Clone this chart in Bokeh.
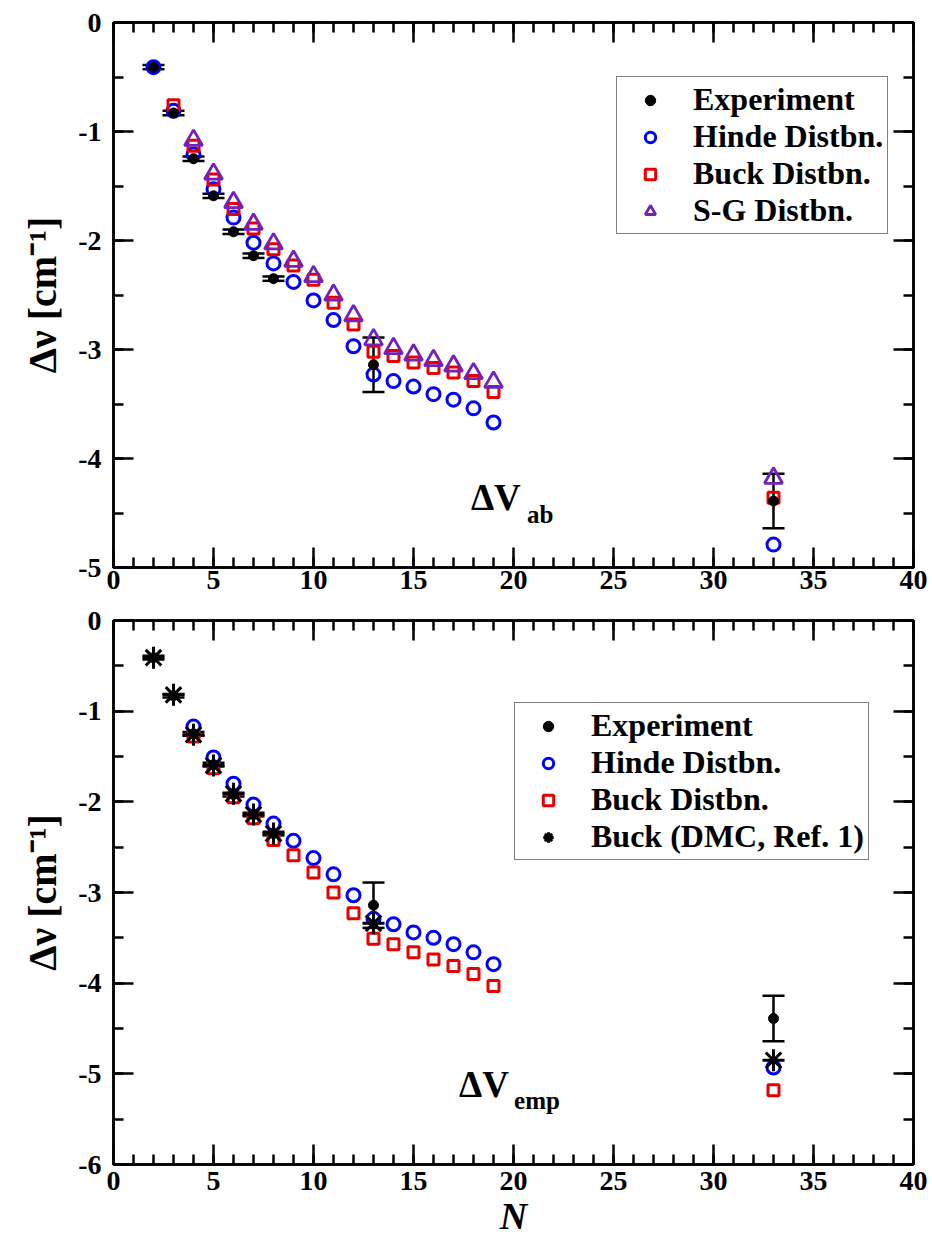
from bokeh.plotting import figure
from bokeh.models import (ColumnDataSource, Whisker, TeeHead, LinearAxis, SingleIntervalTicker,
                          Range1d, Legend, LegendItem, Label, CustomJSTickFormatter)
from bokeh.layouts import column
from bokeh.embed import file_html
from bokeh.resources import INLINE

FONT = "Liberation Serif"
BLUE = "#0000ff"
RED = "#e80000"
PURPLE = "#7221bc"

# ---------------- data ----------------
x_title = "N"
y_title = "Δν [cm⁻¹]"

# Experiment (shared by both panels)
n_exp = [2, 3, 4, 5, 6, 7, 8, 13, 33]
exp_val = [-0.41, -0.83, -1.25, -1.59, -1.92, -2.14, -2.35, -3.14, -4.39]
exp_err = [0.02, 0.02, 0.02, 0.02, 0.02, 0.02, 0.02, 0.25, 0.25]

# Top panel: Delta V_ab
n_hinde_ab = [2, 3, 4, 5, 6, 7, 8, 9, 10, 11, 12, 13, 14, 15, 16, 17, 18, 19, 33]
hinde_ab = [-0.41, -0.81, -1.21, -1.53, -1.79, -2.02, -2.21, -2.38, -2.55, -2.73, -2.97,
            -3.23, -3.29, -3.34, -3.41, -3.46, -3.54, -3.67, -4.79]
n_buck_ab = [3, 4, 5, 6, 7, 8, 9, 10, 11, 12, 13, 14, 15, 16, 17, 18, 19, 33]
buck_ab = [-0.76, -1.13, -1.44, -1.71, -1.89, -2.08, -2.23, -2.36, -2.57, -2.77,
           -3.02, -3.06, -3.12, -3.17, -3.21, -3.29, -3.39, -4.36]
n_sg_ab = [4, 5, 6, 7, 8, 9, 10, 11, 12, 13, 14, 15, 16, 17, 18, 19, 33]
sg_ab = [-1.08, -1.39, -1.65, -1.85, -2.03, -2.19, -2.33, -2.50, -2.69, -2.91,
         -2.99, -3.05, -3.10, -3.15, -3.22, -3.30, -4.18]

# Bottom panel: Delta V_emp
n_hinde_emp = [4, 5, 6, 7, 8, 9, 10, 11, 12, 13, 14, 15, 16, 17, 18, 19, 33]
hinde_emp = [-1.17, -1.51, -1.80, -2.03, -2.24, -2.43, -2.62, -2.80, -3.03, -3.29,
             -3.35, -3.44, -3.50, -3.57, -3.66, -3.79, -4.93]
n_buck_emp = [4, 5, 6, 7, 8, 9, 10, 11, 12, 13, 14, 15, 16, 17, 18, 19, 33]
buck_emp = [-1.28, -1.63, -1.95, -2.18, -2.42, -2.59, -2.78, -3.00, -3.23, -3.51,
            -3.57, -3.66, -3.74, -3.81, -3.90, -4.03, -5.18]
n_dmc = [2, 3, 4, 5, 6, 7, 8, 13, 33]
dmc = [-0.41, -0.82, -1.26, -1.60, -1.91, -2.14, -2.35, -3.34, -4.85]


def style_axis(ax):
    ax.axis_line_width = 2.5
    ax.axis_line_color = "black"
    ax.major_tick_in = 20
    ax.major_tick_out = 0
    ax.minor_tick_in = 10
    ax.minor_tick_out = 0
    ax.major_tick_line_width = 2.5
    ax.minor_tick_line_width = 2.5
    ax.major_tick_line_color = "black"
    ax.minor_tick_line_color = "black"
    ax.major_label_text_font = FONT
    ax.major_label_text_font_style = "bold"
    ax.major_label_text_font_size = "28px"
    ax.major_label_text_color = "black"


def make_fig(ymin, height, top, bottom):
    p = figure(width=932, height=height, x_range=Range1d(0, 40), y_range=Range1d(ymin, 0),
               output_backend="svg", toolbar_location=None,
               min_border_left=113, min_border_right=19,
               min_border_top=top, min_border_bottom=bottom)
    p.grid.visible = False
    p.outline_line_color = "black"
    p.outline_line_width = 2.5
    p.outline_line_alpha = 1.0
    p.background_fill_color = "white"
    p.border_fill_color = "white"
    xt = SingleIntervalTicker(interval=5, num_minor_ticks=5)
    yt = SingleIntervalTicker(interval=1, num_minor_ticks=2)
    fmt = CustomJSTickFormatter(code="return tick.toFixed(0)")
    xax = p.below[0]
    yax = p.left[0]
    xax.ticker = xt
    yax.ticker = yt
    for ax in (xax, yax):
        style_axis(ax)
        ax.formatter = fmt
    xax.major_label_standoff = 3
    yax.major_label_standoff = 12
    yax.axis_label = y_title
    yax.axis_label_text_font = FONT
    yax.axis_label_text_font_style = "bold"
    yax.axis_label_text_font_size = "40px"
    yax.axis_label_text_color = "black"
    yax.axis_label_standoff = 10
    for loc, tk in (("above", xt), ("right", yt)):
        ax = LinearAxis(ticker=tk, formatter=CustomJSTickFormatter(code="return ''"))
        style_axis(ax)
        ax.major_label_text_font_size = "0px"
        ax.major_label_standoff = 0
        p.add_layout(ax, loc)
    return p, xax


def add_exp(p):
    lo = [v - e for v, e in zip(exp_val, exp_err)]
    hi = [v + e for v, e in zip(exp_val, exp_err)]
    src = ColumnDataSource(dict(x=n_exp, y=exp_val, lo=lo, hi=hi))
    w = Whisker(base="x", lower="lo", upper="hi", source=src, line_color="black", line_width=2.5,
                upper_head=TeeHead(size=22, line_width=2.5, line_color="black"),
                lower_head=TeeHead(size=22, line_width=2.5, line_color="black"))
    p.add_layout(w)
    return p.scatter("x", "y", source=src, marker="circle", size=10,
                     fill_color="black", line_color="black")


def hollow(p, xs, ys, marker, color, size, lw=3):
    return p.scatter(xs, ys, marker=marker, size=size, fill_color=None,
                     line_color=color, line_width=lw)


def make_legend(items, loc):
    lg = Legend(items=items, location=loc)
    lg.label_text_font = FONT
    lg.label_text_font_style = "bold"
    lg.label_text_font_size = "32px"
    lg.label_text_color = "black"
    lg.border_line_color = "black"
    lg.border_line_width = 1.5
    lg.background_fill_color = "white"
    lg.background_fill_alpha = 1.0
    lg.padding = 4
    lg.spacing = 0
    lg.margin = 0
    lg.glyph_width = 58
    lg.glyph_height = 26
    lg.label_height = 26
    lg.label_standoff = 14
    return lg


# ---------------- top panel ----------------
p1, _ = make_fig(-5, 603, 22, 36)
r_h1 = hollow(p1, n_hinde_ab, hinde_ab, "circle", BLUE, 13)
r_b1 = hollow(p1, n_buck_ab, buck_ab, "square", RED, 11)
r_s1 = hollow(p1, n_sg_ab, sg_ab, "triangle", PURPLE, 18, 2.8)
r_e1 = add_exp(p1)
p1.add_layout(make_legend([
    LegendItem(label="Experiment", renderers=[r_e1]),
    LegendItem(label="Hinde Distbn.", renderers=[r_h1]),
    LegendItem(label="Buck Distbn.", renderers=[r_b1]),
    LegendItem(label="S-G Distbn.", renderers=[r_s1]),
], (503, 333)))
p1.add_layout(Label(x=17.87, y=-4.36, text="ΔV", text_font=FONT, text_font_style="bold",
                    text_font_size="37px", text_baseline="alphabetic", text_color="black"))
p1.add_layout(Label(x=20.67, y=-4.51, text="ab", text_font=FONT, text_font_style="bold",
                    text_font_size="25px", text_baseline="alphabetic", text_color="black"))

# ---------------- bottom panel ----------------
p2, xax2 = make_fig(-6, 637, 17, 76)
r_h2 = hollow(p2, n_hinde_emp, hinde_emp, "circle", BLUE, 13)
r_b2 = hollow(p2, n_buck_emp, buck_emp, "square", RED, 11)
r_e2 = add_exp(p2)
r_d2 = p2.scatter(n_dmc, dmc, marker="asterisk", size=22, line_color="black", line_width=3)
p2.add_layout(make_legend([
    LegendItem(label="Experiment", renderers=[r_e2]),
    LegendItem(label="Hinde Distbn.", renderers=[r_h2]),
    LegendItem(label="Buck Distbn.", renderers=[r_b2]),
    LegendItem(label="Buck (DMC, Ref. 1)", renderers=[r_d2]),
], (401, 304)))
p2.add_layout(Label(x=17.28, y=-5.12, text="ΔV", text_font=FONT, text_font_style="bold",
                    text_font_size="37px", text_baseline="alphabetic", text_color="black"))
p2.add_layout(Label(x=20.03, y=-5.29, text="emp", text_font=FONT, text_font_style="bold",
                    text_font_size="25px", text_baseline="alphabetic", text_color="black"))
xax2.axis_label = x_title
xax2.axis_label_text_font = FONT
xax2.axis_label_text_font_style = "bold italic"
xax2.axis_label_text_font_size = "38px"
xax2.axis_label_text_color = "black"
xax2.axis_label_standoff = 2
xax2.major_label_standoff = 7

layout = column(p1, p2, spacing=0)
open("out.html", "w").write(file_html(layout, INLINE))
